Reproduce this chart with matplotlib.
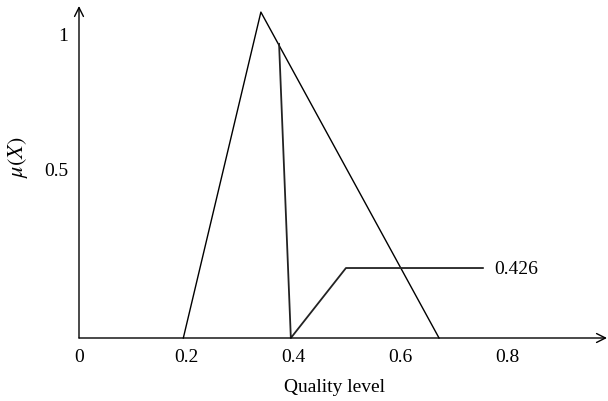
import matplotlib
matplotlib.use("Agg")
import matplotlib.pyplot as plt

plt.rcParams['font.family'] = ['Liberation Serif', 'DejaVu Serif']
plt.rcParams['mathtext.fontset'] = 'stix'

# membership triangle
tri_x = [0.195, 0.34, 0.673]
tri_y = [0.0, 0.964, 0.0]
# output curve
out_x = [0.374, 0.396, 0.499, 0.755]
out_y = [0.870, 0.0, 0.207, 0.207]
out_label = "0.426"

x_ticks = [0, 0.2, 0.4, 0.6, 0.8]
x_tick_labels = ["0", "0.2", "0.4", "0.6", "0.8"]
y_ticks = [0.5, 0.9]
y_tick_labels = ["0.5", "1"]

FS = 14

fig = plt.figure(figsize=(6.08, 4.02), dpi=100)
ax = fig.add_axes([79/608, 63/402, (607-79)/608, (339-7)/402])
ax.set_xlim(0, 0.987)
ax.set_ylim(0, 0.982)
for s in ax.spines.values():
    s.set_visible(False)

ax.annotate('', xy=(1, 0), xycoords='axes fraction', xytext=(0, 0),
            arrowprops=dict(arrowstyle='->', lw=1.0, color='black',
                            shrinkA=0, shrinkB=0, mutation_scale=16))
ax.annotate('', xy=(0, 1), xycoords='axes fraction', xytext=(0, 0),
            arrowprops=dict(arrowstyle='->', lw=1.0, color='black',
                            shrinkA=0, shrinkB=0, mutation_scale=16))

ax.plot(tri_x, tri_y, color='black', lw=1.0, clip_on=False)
ax.plot(out_x, out_y, color='#222222', lw=1.3, clip_on=False)
ax.text(out_x[-1] + 0.022, out_y[-1], out_label, fontsize=FS, va='center', ha='left')

ax.set_xticks(x_ticks)
ax.set_xticklabels(x_tick_labels, fontsize=FS)
ax.set_yticks(y_ticks)
ax.set_yticklabels(y_tick_labels, fontsize=FS)
ax.tick_params(axis='x', length=0, pad=7)
ax.tick_params(axis='y', length=0, pad=8)

fig.text(335/608, 1 - 388/402, "Quality level", fontsize=FS, ha='center', va='center')
fig.text(18/608, 1 - 157/402, r'$\mu(X)$', fontsize=16, ha='center', va='center', rotation=90)

fig.savefig("out.png", dpi=100)
